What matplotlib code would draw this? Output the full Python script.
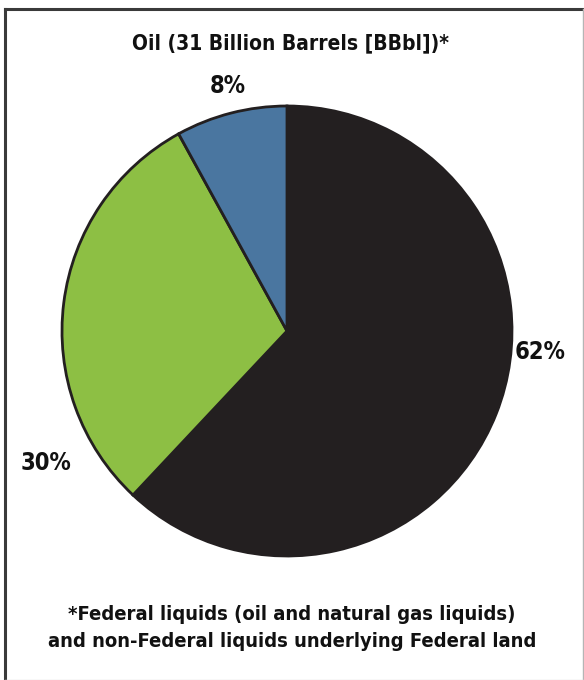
import numpy as np
import matplotlib.pyplot as plt
from matplotlib.lines import Line2D

plt.rcParams['font.family'] = ['DejaVu Sans']
plt.rcParams['font.stretch'] = 'condensed'

shares = [62, 30, 8]
labels = ['62%', '30%', '8%']
colors = ['#231f20', '#8dbf44', '#4a76a0']
# where each percent label sits around the pie (degrees, radius)
label_angles = [-4.7, -151.3, 103.6]
label_radii = [1.13, 1.22, 1.12]

title = 'Oil (31 Billion Barrels [BBbl])*'
note = '*Federal liquids (oil and natural gas liquids)\nand non-Federal liquids underlying Federal land'

fig = plt.figure(figsize=(5.84, 6.8), dpi=100)
ax = fig.add_axes([62 / 584, 124 / 680, 450 / 584, 450 / 680])

ax.pie(shares, colors=colors, startangle=90, counterclock=False, radius=1,
       wedgeprops=dict(edgecolor='#231f20', linewidth=2))
ax.set_xlim(-1, 1)
ax.set_ylim(-1, 1)
ax.set_aspect('equal')
ax.axis('off')

for lab, ang, r in zip(labels, label_angles, label_radii):
    a = np.deg2rad(ang)
    ax.text(r * np.cos(a), r * np.sin(a), lab, ha='center', va='center',
            fontsize=17, fontweight='bold', color='#111111', clip_on=False)

fig.text(291 / 584, 1 - 43 / 680, title, ha='center', va='center',
         fontsize=15, fontweight='bold', color='#111111')
fig.text(292 / 584, 1 - 628 / 680, note, ha='center', va='center',
         fontsize=14.5, fontweight='bold', color='#111111', linespacing=1.55)

# box around the figure: dark top/left, light right/bottom
fig.add_artist(Line2D([4.5 / 584, 583 / 584], [1 - 8.5 / 680, 1 - 8.5 / 680],
                      transform=fig.transFigure, color='#3a3a3a', lw=2.2))
fig.add_artist(Line2D([4.5 / 584, 4.5 / 584], [1 - 8.5 / 680, 0],
                      transform=fig.transFigure, color='#3a3a3a', lw=2.2))
fig.add_artist(Line2D([583 / 584, 583 / 584], [1 - 8.5 / 680, 0],
                      transform=fig.transFigure, color='#b5b5b5', lw=1))
fig.add_artist(Line2D([4.5 / 584, 583 / 584], [0.5 / 680, 0.5 / 680],
                      transform=fig.transFigure, color='#e0e0e0', lw=1))

fig.savefig('out.png', dpi=100)
